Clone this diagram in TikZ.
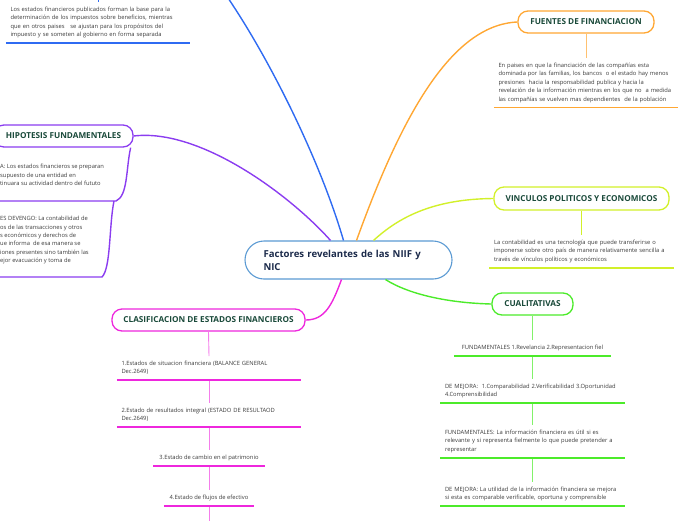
\documentclass[tikz,border=0pt]{standalone}
\usepackage{fontspec}
\setmainfont{Open Sans}
\definecolor{cblue}{HTML}{2F6BF2}
\definecolor{cpurp}{HTML}{8B3DF0}
\definecolor{corange}{HTML}{FFA733}
\definecolor{cyel}{HTML}{D2F02A}
\definecolor{cgreen}{HTML}{4CEB2A}
\definecolor{cmag}{HTML}{EE27DD}
\definecolor{ccenter}{HTML}{5B9AD3}
\definecolor{chead}{HTML}{1A4A3A}
\definecolor{cnavy}{HTML}{1B2A4A}
\definecolor{ctext}{HTML}{3A3A3A}
\newcommand\subfnt{\fontsize{5.8}{8.4}\selectfont}
\newcommand\headfnt{\fontsize{8.2}{9}\selectfont\bfseries}
\tikzset{
  head/.style={draw=#1, line width=1.3pt, rounded corners=10pt, fill=white,
    minimum height=22pt, inner sep=0pt, font=\headfnt, text=chead},
  conn/.style={draw=#1, line width=1.4pt},
  vconn/.style={draw=#1, line width=0.9pt},
  uline/.style={draw=#1, line width=1.8pt},
  subtxt/.style={font=\subfnt, text=ctext, align=left, inner xsep=4.5pt, inner ysep=3.5pt,
    text width=#1, anchor=north,
    execute at begin node=\strut, execute at end node=\strut},
  subone/.style={font=\subfnt, text=ctext, inner xsep=5pt, inner ysep=3.5pt,
    minimum width=#1, anchor=north,
    execute at begin node=\strut, execute at end node=\strut},
  cuttxt/.style={font=\subfnt, text=ctext, align=left, inner sep=0pt, anchor=north west,
    execute at begin node=\strut, execute at end node=\strut},
}
\begin{document}
\begin{tikzpicture}[x=1pt,y=-1pt]
\useasboundingbox (0,0) rectangle (696,520);

% central node
\node[draw=ccenter, line width=1.1pt, rounded corners=19pt, minimum width=207pt,
  minimum height=38pt, text width=170pt, inner xsep=18.5pt, inner ysep=0pt, align=left,
  font=\fontsize{9.6}{13}\selectfont\bfseries, text=cnavy] (c) at (348.5,260)
  {Factores revelantes de las NIIF y\\NIC};

% ---------------- blue branch (parent off the page)
\coordinate (btop) at (228,-2);
\coordinate (btick) at (98,-5);
\draw[conn=cblue] ([xshift=-5pt]c.north) .. controls (320,160) and (270,60) .. (btop);
\node[subtxt=175pt] (b1) at (98,2)
  {Los estados financieros publicados forman la base para la\\
   determinación de los impuestos sobre beneficios, mientras\\
   que en otros paises~~ se ajustan para los propósitos del\\
   impuesto y se someten al gobierno en forma separada};
\draw[vconn=cblue] (btick) -- (b1.north);
\draw[uline=cblue] (b1.south west) -- (b1.south east);

% ---------------- purple branch
\node[head=cpurp, minimum width=139pt] (hip) at (63.5,136) {HIPOTESIS FUNDAMENTALES};
\draw[conn=cpurp] ([xshift=-18pt]c.north) .. controls (290,195) and (200,128) .. (hip.east);
\node[cuttxt] (p1) at (0,164)
  {A: Los estados financieros se preparan\\
   supuesto de una entidad en\\
   tinuara su actividad dentro del fututo};
\node[cuttxt] (p2) at (0,216)
  {ES DEVENGO: La contabilidad de\\
   os de las transacciones y otros\\
   s económicos y derechos de\\
   ue informa~ de esa manera se\\
   iones presentes sino también las\\
   ejor evacuación y toma de};
\coordinate (p1r) at (116,201);
\coordinate (p1l) at (-5,201);
\coordinate (p2s) at (114,201);
\coordinate (p2r) at (102,277);
\coordinate (p2l) at (-5,277);
\draw[conn=cpurp] ([xshift=-3pt]hip.south east) .. controls (126,168) and (128,196) .. (p1r) -- (p1l);
\draw[conn=cpurp] (p2s) .. controls (109,225) and (111,268) .. (p2r) -- (p2l);

% ---------------- orange branch
\node[head=corange, minimum width=136pt] (fin) at (586,22) {FUENTES DE FINANCIACION};
\draw[conn=corange] ([xshift=8pt]c.north) .. controls (400,120) and (450,25) .. (fin.west);
\node[subtxt=175pt] (o1) at (586,58)
  {En paises en que la financiación de las compañías esta\\
   dominada por las familias, los bancos~ o el estado hay menos\\
   presiones~ hacia la responsabilidad publica y hacia la\\
   revelación de la información mientras en los que no~ a medida\\
   las compañías se vuelven mas dependientes~ de la población};
\draw[vconn=corange!70] (fin.south) -- (o1.north);
\draw[uline=corange] (o1.south west) -- (o1.south east);

% ---------------- yellow branch
\node[head=cyel, minimum width=175pt, minimum height=23pt] (vin) at (581.5,198.5) {VINCULOS POLITICOS Y ECONOMICOS};
\draw[conn=cyel] ([xshift=25pt]c.north) .. controls (398,218) and (432,199) .. (vin.west);
\node[subtxt=175pt] (y1) at (581.5,235)
  {La contabilidad es una tecnología que puede transferirse o\\
   imponerse sobre otro país de manera relativamente sencilla a\\
   través de vínculos políticos y económicos};
\draw[vconn=cyel] (vin.south) -- (y1.north);
\draw[uline=cyel] (y1.south west) -- (y1.south east);

% ---------------- green branch
\node[head=cgreen, minimum width=81pt] (cua) at (532.5,304) {CUALITATIVAS};
\draw[conn=cgreen] ([xshift=37pt]c.south) .. controls (410,295) and (450,303) .. (cua.west);
\node[subone=157pt] (g1) at (532.5,340) {FUNDAMENTALES 1.Revelancia 2.Representacion fiel};
\node[subtxt=175pt] (g2) at (532.5,379)
  {DE MEJORA:~ 1.Comparabilidad 2.Verificabilidad 3.Oportunidad\\
   4.Comprensibilidad};
\node[subtxt=175pt] (g3) at (532.5,425)
  {FUNDAMENTALES: La información financiera es útil si es\\
   relevante y si representa fielmente lo que puede pretender a\\
   representar};
\node[subtxt=175pt] (g4) at (532.5,481.5)
  {DE MEJORA: La utilidad de la información financiera se mejora\\
   si esta es comparable verificable, oportuna y comprensible};
\draw[vconn=cgreen!70] (cua.south) -- (g1.north);
\draw[vconn=cgreen!70] (g1.south) -- (g2.north);
\draw[vconn=cgreen!70] (g2.south) -- (g3.north);
\draw[vconn=cgreen!70] (g3.south) -- (g4.north);
\foreach \n in {g1,g2,g3,g4} \draw[uline=cgreen] (\n.south west) -- (\n.south east);

% ---------------- magenta branch
\node[head=cmag, minimum width=193pt] (cla) at (208.5,320) {CLASIFICACION DE ESTADOS FINANCIEROS};
\draw[conn=cmag] ([xshift=-7pt]c.south) .. controls (332,305) and (325,320) .. (cla.east);
\node[subtxt=175pt] (m1) at (209,356)
  {1.Estados de situacion financiera (BALANCE GENERAL\\ Dec.2649)};
\node[subtxt=175pt] (m2) at (209,403)
  {2.Estado de resultados integral (ESTADO DE RESULTAOD\\ Dec.2649)};
\node[subone=111pt] (m3) at (209,450) {3.Estado de cambio en el patrimonio};
\node[subone=90pt] (m4) at (209,490) {4.Estado de flujos de efectivo};
\coordinate (mend) at (209,525);
\draw[vconn=cmag!60] (cla.south) -- (m1.north);
\draw[vconn=cmag!60] (m1.south) -- (m2.north);
\draw[vconn=cmag!60] (m2.south) -- (m3.north);
\draw[vconn=cmag!60] (m3.south) -- (m4.north);
\draw[vconn=cmag!60] (m4.south) -- (mend);
\foreach \n in {m1,m2,m3,m4} \draw[uline=cmag] (\n.south west) -- (\n.south east);
\end{tikzpicture}
\end{document}
